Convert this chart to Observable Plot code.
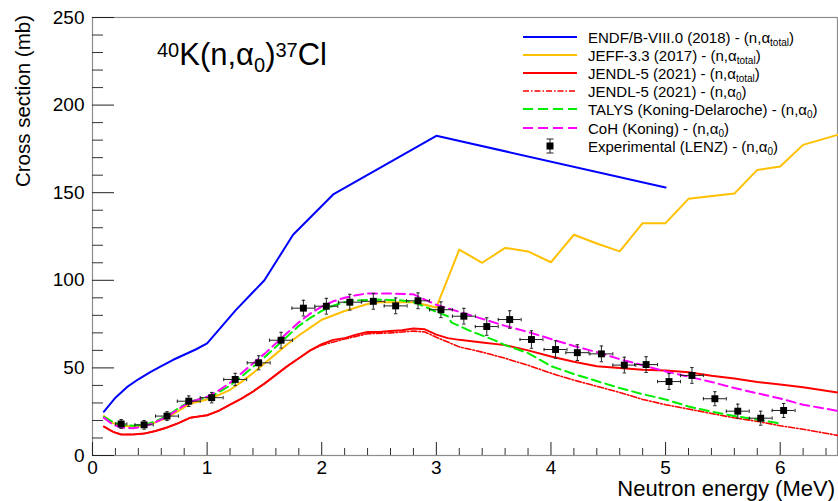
<!DOCTYPE html>
<html><head><meta charset="utf-8">
<script src="https://cdn.jsdelivr.net/npm/d3@7"></script>
<script src="https://cdn.jsdelivr.net/npm/@observablehq/plot@0.6"></script>
<style>body{margin:0;background:#fff}#chart{position:relative;width:838px;height:501px}</style>
</head><body><div id="chart"></div>
<script>
// ---- Data (neutron energy in MeV, cross section in mb) ----
const endfE  = [0.1, 0.15, 0.2, 0.3, 0.4, 0.5, 0.6, 0.7, 0.8, 0.9, 1.0, 1.25, 1.5, 1.75, 2.1, 3.0, 5.0];
const endfXS = [25, 29, 33, 39, 43.5, 47.5, 51, 54.5, 57.5, 60.5, 64, 83, 100, 126, 149, 182.5, 153];

const jeffE  = [0.1, 0.18, 0.25, 0.35, 0.45, 0.55, 0.65, 0.75, 0.85, 1.0, 1.1, 1.2, 1.3, 1.4, 1.5, 1.6, 1.7, 1.8, 1.9, 2.0, 2.2, 2.4, 2.5, 2.6, 2.8, 2.9, 3.0,
                3.2, 3.4, 3.6, 3.8, 4.0, 4.2, 4.4, 4.6, 4.8, 5.0, 5.2, 5.6, 5.8, 6.0, 6.2, 6.5];
const jeffXS = [22.5, 18.5, 17, 16.5, 17, 19, 21.5, 25.5, 29.5, 32, 34.5, 37.5, 42, 47, 52.5, 58, 63.5, 68.5, 73, 77.5, 82.5, 86.5, 87.5, 87.5, 87.5, 86, 84.5,
                117.5, 110, 118.5, 116.5, 110.3, 126, 121, 116.5, 132.6, 132.6, 146.5, 149.5, 163, 165, 177.3, 183];

const jendlTotE  = [0.1, 0.18, 0.25, 0.35, 0.45, 0.55, 0.65, 0.75, 0.85, 1.0, 1.1, 1.2, 1.3, 1.4, 1.5, 1.6, 1.7, 1.8, 1.9, 2.0, 2.1, 2.2, 2.3, 2.4, 2.5, 2.6, 2.7, 2.8, 2.9, 3.0,
                    3.1, 3.2, 3.4, 3.6, 3.8, 4.0, 4.2, 4.4, 4.6, 4.8, 5.0, 5.2, 5.4, 5.6, 5.8, 6.0, 6.2, 6.5];
const jendlTotXS = [16.5, 13.5, 12, 12, 12.5, 14, 16, 18.5, 21.5, 23, 25.5, 29, 32.5, 36.5, 41, 46, 51, 55.5, 60, 63.5, 66, 67, 69, 70.5, 70.5, 71, 71.5, 72.5, 72, 69,
                    67, 66, 64.5, 63, 60, 56.5, 53.5, 51, 50, 49, 48.5, 47.5, 45.5, 44, 42, 40.5, 39, 36];

const jendlA0E  = [0.1, 0.18, 0.25, 0.35, 0.45, 0.55, 0.65, 0.75, 0.85, 1.0, 1.1, 1.2, 1.3, 1.4, 1.5, 1.6, 1.7, 1.8, 1.9, 2.0, 2.2, 2.4, 2.6, 2.8, 2.9, 3.0,
                   3.2, 3.4, 3.6, 3.8, 4.0, 4.2, 4.4, 4.6, 4.8, 5.0, 5.2, 5.4, 5.6, 5.8, 6.0, 6.2, 6.5];
const jendlA0XS = [16.5, 13.5, 12, 12, 12.5, 14, 16, 18.5, 21.5, 23, 25.5, 29, 32.5, 36.5, 41, 46, 51, 55.5, 60, 63, 66.5, 69.5, 70, 71, 70.5, 67.5,
                   62, 59, 55.5, 51.5, 47, 43, 39.5, 36, 32, 29, 26.5, 24, 21.5, 19.5, 17, 15, 11.5];

const talysE  = [0.1, 0.18, 0.25, 0.35, 0.45, 0.55, 0.65, 0.75, 0.85, 1.0, 1.1, 1.2, 1.3, 1.4, 1.5, 1.6, 1.7, 1.8, 1.9, 2.0, 2.1, 2.2, 2.3, 2.5, 2.7, 2.8, 2.9, 3.0, 3.1,
                 3.13, 3.3, 3.5, 3.6, 3.8, 4.0, 4.2, 4.4, 4.6, 4.8, 5.0, 5.2, 5.4, 5.6, 5.8, 5.98];
const talysXS = [22, 19, 17.5, 17, 17.5, 19.5, 22.5, 27, 31, 33, 36, 40, 45, 50.5, 56, 62, 68, 74, 78.5, 82.5, 85.5, 87.5, 88.5, 89, 88.5, 87.5, 85, 82, 79.5,
                 76, 71, 66, 63, 58.5, 51, 46.5, 42.5, 38.5, 35, 32, 28, 25, 22.5, 20.5, 18.5];

const cohE  = [0.1, 0.18, 0.25, 0.35, 0.45, 0.55, 0.65, 0.75, 0.85, 1.0, 1.1, 1.2, 1.3, 1.4, 1.5, 1.6, 1.7, 1.8, 1.9, 2.0, 2.1, 2.2, 2.3, 2.4, 2.6, 2.8, 2.9, 3.0,
               3.2, 3.4, 3.6, 3.8, 4.0, 4.2, 4.4, 4.6, 4.8, 5.0, 5.2, 5.4, 5.6, 5.8, 6.0, 6.2, 6.5];
const cohXS = [21.5, 17.5, 16, 15.5, 16.5, 19, 22, 26.5, 30.5, 33.5, 37, 41.5, 47, 52.5, 58, 64, 70, 76, 81, 85, 88, 90, 91.5, 92.5, 92.5, 92, 89, 86,
               82, 78, 74, 70.5, 66.5, 62.5, 59, 55, 51.5, 48, 45, 42, 38.5, 35.5, 32.5, 29, 25.5];

const expE   = [0.25, 0.45, 0.65, 0.84, 1.04, 1.245, 1.45, 1.645, 1.84, 2.04, 2.245, 2.45, 2.645, 2.84, 3.04, 3.24, 3.44, 3.64, 3.83, 4.04, 4.23, 4.44, 4.64, 4.83, 5.03, 5.23, 5.43, 5.63, 5.83, 6.03];
const expXS  = [18, 17.5, 22.5, 31, 33, 43.4, 52.9, 65.8, 84.1, 85.2, 87.5, 88, 85.4, 88.3, 83.2, 79.5, 73.6, 77.6, 66.2, 60.5, 58.7, 58, 51.6, 51.9, 42.2, 45.7, 32.4, 25.3, 21.3, 25.7];
const expDE  = [0.05, 0.08, 0.1, 0.1, 0.1, 0.1, 0.1, 0.1, 0.1, 0.1, 0.1, 0.1, 0.1, 0.1, 0.1, 0.1, 0.1, 0.1, 0.1, 0.1, 0.1, 0.1, 0.1, 0.1, 0.1, 0.1, 0.1, 0.1, 0.1, 0.1];
const expDXS = [2.5, 2.5, 2.5, 3, 3, 3.5, 4, 4.5, 4.5, 4.5, 4.5, 4.5, 4.5, 4.5, 4.5, 4.5, 5, 5, 5, 5, 4.5, 4.5, 4.5, 4.5, 4.5, 4.5, 4, 4, 4, 4];

const xMajorTicks = [0, 1, 2, 3, 4, 5, 6];
const yMajorTicks = [0, 50, 100, 150, 200, 250];

// ---- Layout ----
const W = 838, H = 501, mL = 92, mR = 1, mT = 17, mB = 46;
const fw = W - mL - mR, fh = H - mT - mB;
const FONT = "'Liberation Sans', Arial, Helvetica, sans-serif";

const rows = (xs, ys) => xs.map((x, i) => ({x, y: ys[i]}));
const exp = expE.map((x, i) => ({x, y: expXS[i], dx: expDE[i], dy: expDXS[i]}));
const xMinorTicks = d3.range(0, 6.5001, 0.2).map(v => +v.toFixed(2)).filter(v => Math.abs(v - Math.round(v)) > 1e-6);
const yMinorTicks = d3.range(0, 250.001, 10).filter(v => v % 50 !== 0);

const vbar = {draw(ctx, size) { const r = Math.sqrt(size / Math.PI); ctx.moveTo(0, -r); ctx.lineTo(0, r); }};
const hbar = {draw(ctx, size) { const r = Math.sqrt(size / Math.PI); ctx.moveTo(-r, 0); ctx.lineTo(r, 0); }};

const colors = {endf: "#0000ff", jeff: "#ffc000", jendl: "#ff0000", talys: "#00ee00", coh: "#ff00ff"};
const dashed = "9,5";
const dashdot = "6,2,1.5,2";

const chart = Plot.plot({
  width: W, height: H,
  marginLeft: mL, marginRight: mR, marginTop: mT, marginBottom: mB,
  style: {fontFamily: FONT, background: "#fff", color: "#000"},
  x: {domain: [0, 6.5], label: null},
  y: {domain: [0, 250], label: null},
  marks: [
    Plot.frame({stroke: "#8c8c8c", strokeWidth: 1.2}),
    Plot.tickX(xMinorTicks, {x: d => d, insetTop: fh - 7, stroke: "#333"}),
    Plot.tickX(xMajorTicks, {x: d => d, insetTop: fh - 13, stroke: "#222"}),
    Plot.tickY(yMinorTicks, {y: d => d, insetRight: fw - 11, stroke: "#333"}),
    Plot.tickY(yMajorTicks, {y: d => d, insetRight: fw - 22, stroke: "#222"}),
    Plot.axisX({ticks: xMajorTicks, tickSize: 0, tickPadding: 5, fontSize: 19, label: null, tickFormat: d => String(d)}),
    Plot.axisY({ticks: yMajorTicks, tickSize: 0, tickPadding: 8, fontSize: 19, label: null, tickFormat: d => String(d)}),
    Plot.line(rows(endfE, endfXS), {x: "x", y: "y", stroke: colors.endf, strokeWidth: 2}),
    Plot.line(rows(jeffE, jeffXS), {x: "x", y: "y", stroke: colors.jeff, strokeWidth: 2}),
    Plot.line(rows(jendlA0E, jendlA0XS), {x: "x", y: "y", stroke: colors.jendl, strokeWidth: 1.6, strokeDasharray: dashdot}),
    Plot.line(rows(jendlTotE, jendlTotXS), {x: "x", y: "y", stroke: colors.jendl, strokeWidth: 2}),
    Plot.line(rows(talysE, talysXS), {x: "x", y: "y", stroke: colors.talys, strokeWidth: 2, strokeDasharray: dashed}),
    Plot.line(rows(cohE, cohXS), {x: "x", y: "y", stroke: colors.coh, strokeWidth: 2, strokeDasharray: dashed}),
    Plot.ruleY(exp, {y: "y", x1: d => d.x - d.dx, x2: d => d.x + d.dx, stroke: "#222", strokeWidth: 1}),
    Plot.ruleX(exp, {x: "x", y1: d => d.y - d.dy, y2: d => d.y + d.dy, stroke: "#222", strokeWidth: 1}),
    Plot.dot(exp, {x: d => d.x - d.dx, y: "y", symbol: vbar, r: 1.7, stroke: "#222", strokeWidth: 1}),
    Plot.dot(exp, {x: d => d.x + d.dx, y: "y", symbol: vbar, r: 1.7, stroke: "#222", strokeWidth: 1}),
    Plot.dot(exp, {x: "x", y: d => d.y - d.dy, symbol: hbar, r: 1.7, stroke: "#222", strokeWidth: 1}),
    Plot.dot(exp, {x: "x", y: d => d.y + d.dy, symbol: hbar, r: 1.7, stroke: "#222", strokeWidth: 1}),
    Plot.dot(exp, {x: "x", y: "y", symbol: "square", r: 3.9, fill: "#000", stroke: "none"})
  ]
});
document.getElementById("chart").appendChild(chart);

const svg = d3.select(chart);

// Axis titles
svg.append("text")
  .attr("transform", "translate(30,15) rotate(-90)")
  .attr("text-anchor", "end").attr("font-family", FONT).attr("font-size", 20.5)
  .text("Cross section (mb)");
svg.append("text")
  .attr("x", 835).attr("y", 496)
  .attr("text-anchor", "end").attr("font-family", FONT).attr("font-size", 22)
  .text("Neutron energy (MeV)");

// Reaction label with super/subscripts
const title = svg.append("text").attr("x", 157).attr("y", 65).attr("text-anchor", "start")
  .attr("font-family", FONT).attr("font-size", 31);
title.append("tspan").attr("font-size", 20).attr("dy", -8).text("40");
title.append("tspan").attr("dy", 8).text("K(n,α");
title.append("tspan").attr("font-size", 20).attr("dy", 7).text("0");
title.append("tspan").attr("dy", -7).text(")");
title.append("tspan").attr("font-size", 20).attr("dy", -8).text("37");
title.append("tspan").attr("dy", 8).text("Cl");

// Legend
const legendItems = [
  {label: "ENDF/B-VIII.0 (2018) - (n,α", sub: "total", color: colors.endf, dash: null, w: 2},
  {label: "JEFF-3.3 (2017) - (n,α", sub: "total", color: colors.jeff, dash: null, w: 2},
  {label: "JENDL-5 (2021) - (n,α", sub: "total", color: colors.jendl, dash: null, w: 2},
  {label: "JENDL-5 (2021) - (n,α", sub: "0", color: colors.jendl, dash: dashdot, w: 1.6},
  {label: "TALYS (Koning-Delaroche) - (n,α", sub: "0", color: colors.talys, dash: "10,5", w: 2},
  {label: "CoH (Koning) - (n,α", sub: "0", color: colors.coh, dash: "10,5", w: 2},
  {label: "Experimental (LENZ) - (n,α", sub: "0", marker: true}
];
const legendY = [37, 55, 73, 91, 109, 128, 146];
const lg = svg.append("g").attr("font-family", FONT).attr("font-size", 15).attr("text-anchor", "start");
legendItems.forEach((it, i) => {
  const cy = legendY[i];
  if (it.marker) {
    lg.append("line").attr("x1", 550).attr("x2", 550).attr("y1", cy - 7).attr("y2", cy + 7).attr("stroke", "#222");
    lg.append("line").attr("x1", 546.5).attr("x2", 553.5).attr("y1", cy - 7).attr("y2", cy - 7).attr("stroke", "#222");
    lg.append("line").attr("x1", 546.5).attr("x2", 553.5).attr("y1", cy + 7).attr("y2", cy + 7).attr("stroke", "#222");
    lg.append("rect").attr("x", 546.5).attr("y", cy - 3.5).attr("width", 7).attr("height", 7).attr("fill", "#000");
  } else {
    lg.append("line").attr("x1", 523).attr("x2", 577).attr("y1", cy).attr("y2", cy)
      .attr("stroke", it.color).attr("stroke-width", it.w).attr("stroke-dasharray", it.dash);
  }
  const t = lg.append("text").attr("x", 588).attr("y", cy + 5.5).attr("text-anchor", "start");
  t.append("tspan").text(it.label);
  t.append("tspan").attr("font-size", 10).attr("dy", 3).text(it.sub);
  t.append("tspan").attr("dy", -3).text(")");
});
</script>
</body></html>
